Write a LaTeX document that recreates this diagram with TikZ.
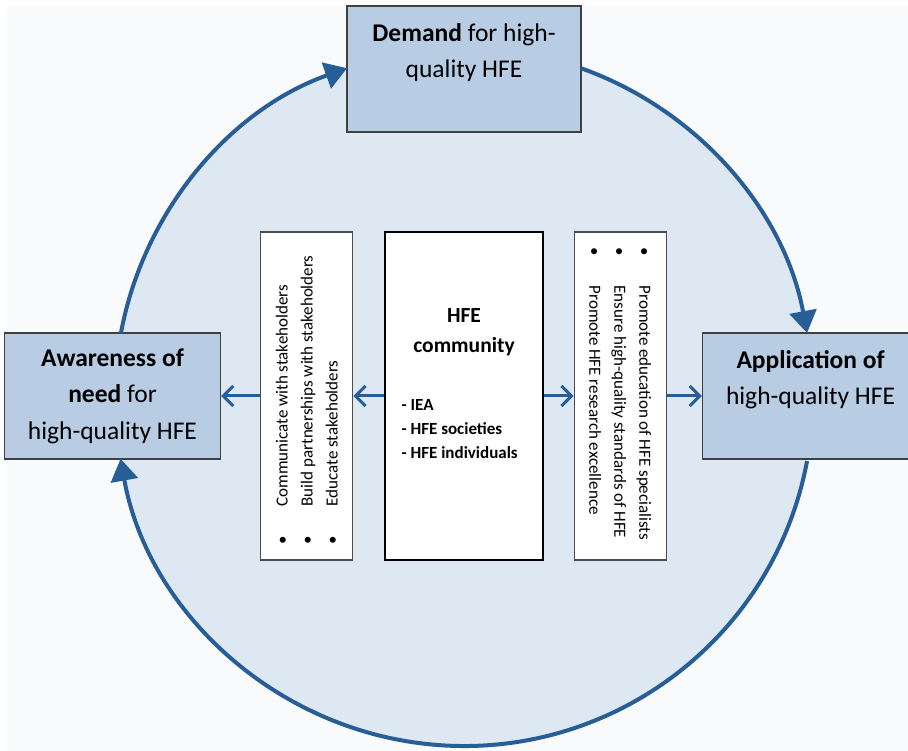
\documentclass[tikz,border=0pt]{standalone}
\usepackage{fontspec}
\setmainfont{Carlito}
\usetikzlibrary{arrows.meta,calc,positioning}
\definecolor{boxblue}{HTML}{B8CCE4}
\definecolor{ringblue}{HTML}{DEE8F3}
\definecolor{lineblue}{HTML}{285E97}
\definecolor{paper}{HTML}{F9FAFC}
\newcommand{\itm}{\makebox[38pt][l]{\textbullet}}

\begin{document}
\begin{tikzpicture}[x=1pt, y=1pt,
  outer/.style={draw=black!75, line width=1.5pt, fill=boxblue, minimum width=216pt, minimum height=126pt, align=center, inner sep=0pt, font=\fontsize{25.5}{36.5}\selectfont},
  list/.style={draw=black!70, line width=1.2pt, fill=white, minimum width=92pt, minimum height=328pt, inner sep=0pt},
  items/.style={align=left, inner sep=0pt, font=\fontsize{17}{25}\selectfont},
  link/.style={line width=3pt, lineblue, -{Straight Barb[length=10pt,width=20pt]}},
  cyc/.style={line width=4pt, lineblue, -{Triangle[length=22pt,width=27pt]}}
  ]
  \useasboundingbox (0,0) rectangle (908,751);
  \clip (0,0) rectangle (908,751);
  \fill[paper] (7,0) rectangle (908,746);
  \coordinate (O) at (464,354);
  \fill[ringblue] (O) circle[radius=349];

  \node[list, draw=black, minimum width=158pt] (C) at (464,355) {};
  \node[list, left=31pt of C] (L) {};
  \node[list, right=30pt of C] (R) {};
  \node[outer, left=39pt of L] (A) {\textbf{Awareness of}\\\textbf{need} for\\high-quality HFE};
  \node[outer, right=35pt of R] (P) {\textbf{Application of}\\high-quality HFE\\\mbox{}};
  \node[outer, minimum width=234pt] (D) at (464,682) {\textbf{Demand} for high-\\quality HFE\\\mbox{}};

  \node[font=\bfseries\fontsize{21.5}{30}\selectfont, align=center] (T) at ([yshift=64pt]C.center) {HFE\\community};
  \node[items, font=\bfseries\fontsize{17}{24}\selectfont, anchor=west] (M) at ([xshift=17pt,yshift=-33pt]C.west) {- IEA\\- HFE societies\\- HFE individuals};

  \node[items, rotate=90, anchor=west] (LT) at ([yshift=16pt]L.south) {\itm Communicate with stakeholders\\\itm Build partnerships with stakeholders\\\itm Educate stakeholders};
  \node[items, rotate=-90, anchor=west] (RT) at ([yshift=-16pt]R.north) {\itm Promote education of HFE specialists\\\itm Ensure high-quality standards of HFE\\\itm Promote HFE research excellence};

  \draw[link] (L) -- (A);
  \draw[link] (C) -- (L);
  \draw[link] (C) -- (R);
  \draw[link] (R) -- (P);

  \draw[cyc] ($(O)+(169.5:349)$) arc[start angle=169.5, end angle=109.58, radius=349];
  \draw[cyc] ($(O)+(70.42:349)$) arc[start angle=70.42, end angle=10.57, radius=349];
  \draw[cyc] ($(O)+(-10.57:349)$) arc[start angle=-10.57, end angle=-169.8, radius=349];
\end{tikzpicture}
\end{document}
